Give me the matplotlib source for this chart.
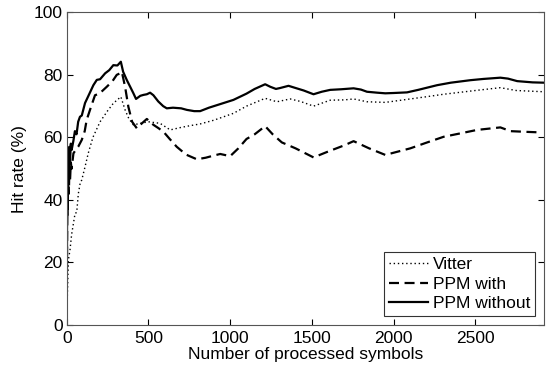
import numpy as np
import matplotlib
matplotlib.use("Agg")
import matplotlib.pyplot as plt

plt.rcParams["font.family"] = ["Liberation Sans", "DejaVu Sans"]

# Vitter
x_vitter = [0, 4, 10, 20, 30, 51, 61, 71, 82, 92, 112, 132, 160, 204, 250, 285, 331, 357, 380,
            408, 450, 500, 571, 633, 700, 760, 816, 900, 1020, 1100, 1214, 1286, 1367, 1430, 1510,
            1612, 1700, 1755, 1837, 1949, 2102, 2200, 2306, 2500, 2653, 2750, 2918]
y_vitter = [0, 10, 20.8, 24, 29, 35.7, 36, 42, 45.3, 46.4, 50.6, 55, 60, 65, 68.5, 70.9, 73, 68.8, 66,
            64, 64.5, 65, 64.5, 62.4, 63.2, 63.8, 64.3, 65.5, 67.7, 70, 72.5, 71.4, 72.3, 71.5, 70,
            71.9, 72, 72.3, 71.4, 71.2, 72.3, 73, 73.8, 75, 75.9, 75, 74.6]

# PPM with
x_with = [0, 2, 4, 6, 8, 10, 13, 16, 20, 25, 30, 41, 55, 70, 92, 110, 122, 150, 173, 200, 245, 280,
          306, 326, 337, 357, 377, 400, 429, 460, 490, 531, 560, 592, 630, 673, 730, 796, 850, 900,
          939, 1000, 1050, 1100, 1150, 1214, 1260, 1316, 1400, 1510, 1600, 1700, 1755, 1850, 1949,
          2102, 2200, 2306, 2400, 2511, 2653, 2715, 2800, 2898]
y_with = [2, 25, 40, 35, 45, 48, 42, 50, 46, 52, 50, 54.9, 56, 57, 59.2, 62, 65.6, 70, 73.5, 74, 76.2, 78,
          80, 80.5, 81, 76.2, 69.8, 65, 62.9, 64.5, 65.9, 64, 63, 61.8, 59.5, 57, 54.5, 53, 53.5, 54.2,
          54.7, 54, 56.5, 59.5, 61, 63.6, 61, 58.4, 56.5, 53.6, 55.5, 57.5, 58.8, 56.5, 54.4,
          56.5, 58.3, 60.2, 61.2, 62.4, 63.2, 62, 61.8, 61.6]

# PPM without
x_without = [0, 2, 4, 6, 8, 10, 13, 16, 20, 25, 30, 41, 50, 60, 70, 81, 92, 112, 130, 163, 184, 204,
             235, 260, 285, 310, 331, 345, 367, 390, 408, 424, 450, 470, 490, 510, 530, 560, 590, 612,
             650, 700, 735, 780, 816, 870, 930, 1020, 1100, 1150, 1214, 1245, 1280, 1306, 1357, 1400,
             1450, 1510, 1560, 1612, 1680, 1755, 1800, 1837, 1900, 1949, 2000, 2082, 2150, 2266, 2350,
             2470, 2550, 2653, 2700, 2756, 2850, 2918]
y_without = [3, 35, 48, 40, 52, 55, 47, 57, 52, 58, 56, 59, 62, 61, 65, 66.6, 67, 71, 73, 76.7, 78.4, 78.6,
             80.5, 81.5, 83.1, 83, 84.2, 81, 78.4, 76, 74.1, 72.3, 73.3, 73.6, 73.8, 74.3, 73.5, 71.5, 70, 69.3,
             69.5, 69.3, 68.8, 68.4, 68.4, 69.5, 70.5, 72, 74, 75.5, 77, 76.2, 75.5, 75.8, 76.5, 75.8,
             75, 73.8, 74.6, 75.2, 75.4, 75.7, 75.3, 74.6, 74.3, 74.1, 74.2, 74.4, 75.2, 76.7, 77.5,
             78.3, 78.7, 79.1, 78.8, 78, 77.6, 77.5]

fig = plt.figure(figsize=(5.47, 3.67), dpi=100)
ax = fig.add_axes([0.122, 0.1144, 0.8725, 0.852])

ax.plot(x_vitter, y_vitter, color="black", linestyle=(0, (1, 2)), linewidth=1.0, label="Vitter")
ax.plot(x_with, y_with, color="black", linestyle=(0, (4.5, 2.5)), linewidth=1.6, label="PPM with")
ax.plot(x_without, y_without, color="black", linestyle="-", linewidth=1.6, label="PPM without")

ax.set_xlim(0, 2920)
ax.set_ylim(0, 100)
ax.set_xticks([0, 500, 1000, 1500, 2000, 2500])
ax.set_yticks([0, 20, 40, 60, 80, 100])
ax.tick_params(direction="in", top=True, right=True, length=4, labelsize=12.5)
ax.tick_params(axis="x", pad=4)
ax.tick_params(axis="y", pad=3)
for s in ax.spines.values():
    s.set_color("#555555")
    s.set_linewidth(0.8)

ax.set_xlabel("Number of processed symbols", fontsize=12.5, labelpad=1)
ax.set_ylabel("Hit rate (%)", fontsize=12.5, labelpad=5)

leg = ax.legend(loc="lower right", fontsize=12.5, frameon=True, fancybox=False,
                edgecolor="black", handlelength=2.2, handletextpad=0.3,
                borderpad=0.3, labelspacing=0.25, borderaxespad=0.5)
leg.get_frame().set_linewidth(0.8)

fig.savefig("out.png", dpi=100)
